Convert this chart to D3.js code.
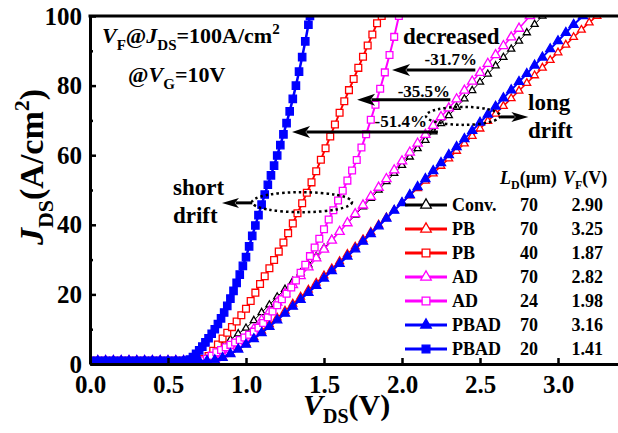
<!DOCTYPE html>
<html>
<head>
<meta charset="utf-8">
<script src="https://cdn.jsdelivr.net/npm/d3@7"></script>
<style>
  body { margin: 0; background: #fff; }
  svg text { font-family: "Liberation Serif", "Times New Roman", serif; font-weight: bold; fill: #000; }
</style>
</head>
<body>
<svg id="chart" width="618" height="433"></svg>
<script>
// off-state part shared by every curve: [V_DS, J_DS]
var offState = [[0,0.9],[0.05,0.9],[0.1,0.9],[0.15,0.9],[0.2,0.9],[0.25,0.9],[0.3,0.9],[0.35,0.9],[0.4,0.9],[0.45,0.9],[0.5,0.9],[0.55,0.9],[0.6,0.9]];

var conv70 = [[0.65,0.9],[0.70,1.0],[0.75,1.8],[0.80,3.2],[0.85,5.0],[0.90,7.0],[0.95,8.7],[1.00,10.3],[1.05,12.5],[1.10,14.8],[1.15,17.0],[1.20,19.3],[1.25,21.5],[1.30,23.8],[1.35,26.2],[1.40,28.5],[1.45,30.9],[1.50,33.3],[1.55,35.7],[1.60,38.0],[1.65,40.4],[1.70,42.8],[1.75,45.2],[1.80,47.6],[1.85,50.0],[1.90,52.4],[1.95,54.8],[2.00,57.1],[2.05,59.5],[2.10,61.9],[2.15,64.3],[2.20,66.7],[2.25,69.1],[2.30,71.4],[2.35,73.8],[2.40,76.2],[2.45,78.6],[2.50,81.0],[2.55,83.3],[2.60,85.7],[2.65,88.1],[2.70,90.5],[2.75,92.8],[2.80,95.2],[2.85,97.6],[2.90,100]];

var pb70 = [[0.65,0.9],[0.70,0.9],[0.75,1.0],[0.80,1.3],[0.85,2.0],[0.90,3.1],[0.95,4.5],[1.00,6.0],[1.05,7.7],[1.10,9.5],[1.15,11.4],[1.20,13.3],[1.25,15.3],[1.30,17.3],[1.35,19.3],[1.40,21.3],[1.45,23.3],[1.50,25.4],[1.55,27.4],[1.60,29.5],[1.65,31.6],[1.70,33.7],[1.75,35.8],[1.80,37.9],[1.85,40.0],[1.90,42.1],[1.95,44.2],[2.00,46.3],[2.05,48.4],[2.10,50.5],[2.15,52.6],[2.20,54.7],[2.25,56.9],[2.30,59.0],[2.35,61.2],[2.40,63.3],[2.45,65.5],[2.50,67.6],[2.55,69.8],[2.60,71.9],[2.65,74.1],[2.70,76.3],[2.75,78.5],[2.80,80.7],[2.85,82.9],[2.90,85.1],[2.95,87.3],[3.00,89.5],[3.05,91.7],[3.10,93.9],[3.15,96.0],[3.20,98.1],[3.25,100]];

var pb40 = [[0.64,0.9],[0.67,0.9],[0.70,1.0],[0.73,1.4],[0.76,2.3],[0.79,3.8],[0.82,5.6],[0.85,7.3],[0.88,9.0],[0.91,10.6],[0.94,12.2],[0.97,14.0],[1.00,15.9],[1.03,18.1],[1.06,20.5],[1.09,23.0],[1.12,25.2],[1.15,27.5],[1.18,29.9],[1.21,32.3],[1.24,34.9],[1.27,37.6],[1.30,40.4],[1.33,43.3],[1.36,46.2],[1.39,49.2],[1.42,52.2],[1.45,55.4],[1.48,58.7],[1.51,62.0],[1.54,65.4],[1.57,68.8],[1.60,72.2],[1.63,75.5],[1.66,78.7],[1.69,81.9],[1.72,85.1],[1.75,88.3],[1.78,91.5],[1.81,94.7],[1.84,97.9],[1.87,100]];

var ad70 = [[0.65,0.9],[0.70,0.9],[0.75,1.0],[0.80,1.6],[0.85,2.8],[0.90,4.2],[0.95,5.8],[1.00,7.5],[1.05,10.0],[1.10,12.6],[1.15,15.1],[1.20,17.7],[1.25,20.2],[1.30,22.7],[1.35,25.3],[1.40,27.8],[1.45,30.4],[1.50,32.9],[1.55,35.5],[1.60,38.0],[1.65,40.5],[1.70,43.1],[1.75,45.6],[1.80,48.1],[1.85,50.7],[1.90,53.2],[1.95,55.7],[2.00,58.3],[2.05,60.8],[2.10,63.4],[2.15,65.9],[2.20,68.5],[2.25,71.0],[2.30,73.5],[2.35,76.1],[2.40,78.6],[2.45,81.2],[2.50,83.7],[2.55,86.3],[2.60,88.8],[2.65,91.4],[2.70,93.9],[2.75,96.4],[2.82,100]];

var ad24 = [[0.66,0.9],[0.69,0.9],[0.72,1.0],[0.75,1.5],[0.78,2.4],[0.81,3.4],[0.84,4.0],[0.87,4.8],[0.90,5.5],[0.93,6.2],[0.96,6.9],[0.99,7.6],[1.02,8.4],[1.05,9.3],[1.08,10.4],[1.11,11.8],[1.14,13.4],[1.17,15.1],[1.20,16.9],[1.23,18.6],[1.26,20.2],[1.29,22.0],[1.32,24.0],[1.35,26.2],[1.38,28.5],[1.41,31.0],[1.44,33.5],[1.47,36.0],[1.50,38.7],[1.53,41.5],[1.56,44.2],[1.59,47.0],[1.62,49.8],[1.65,52.7],[1.68,55.6],[1.71,58.6],[1.74,62.2],[1.77,66.0],[1.80,70.2],[1.83,74.5],[1.86,79.1],[1.89,83.8],[1.92,88.8],[1.95,94.0],[1.98,100]];

var pbad70 = [[0.65,0.9],[0.70,0.9],[0.75,0.9],[0.80,1.1],[0.85,1.8],[0.90,2.9],[0.95,4.2],[1.00,5.6],[1.05,7.2],[1.10,8.9],[1.15,10.7],[1.20,12.6],[1.25,14.5],[1.30,16.5],[1.35,18.5],[1.40,20.5],[1.45,22.5],[1.50,24.6],[1.55,26.7],[1.60,28.8],[1.65,30.9],[1.70,33.0],[1.75,35.2],[1.80,37.4],[1.85,39.6],[1.90,41.8],[1.95,44.1],[2.00,46.3],[2.05,48.6],[2.10,50.9],[2.15,53.2],[2.20,55.5],[2.25,57.8],[2.30,60.1],[2.35,62.4],[2.40,64.7],[2.45,67.0],[2.50,69.4],[2.55,71.7],[2.60,74.0],[2.65,76.4],[2.70,78.7],[2.75,81.1],[2.80,83.4],[2.85,85.8],[2.90,88.1],[2.95,90.5],[3.00,92.8],[3.05,95.2],[3.10,97.5],[3.16,100]];

var pbad20 = [[0.62,0.9],[0.64,1.3],[0.66,2.0],[0.68,2.9],[0.70,3.9],[0.72,5.0],[0.74,6.2],[0.76,7.4],[0.78,8.7],[0.80,10.0],[0.82,11.5],[0.84,13.1],[0.86,14.8],[0.88,16.7],[0.90,18.8],[0.92,21.0],[0.94,23.3],[0.96,25.7],[0.98,28.2],[1.00,30.7],[1.02,33.8],[1.04,36.8],[1.06,39.8],[1.08,42.8],[1.10,45.8],[1.12,48.7],[1.14,51.5],[1.16,54.2],[1.18,57.0],[1.20,59.9],[1.22,62.9],[1.24,66.0],[1.26,69.2],[1.28,72.6],[1.30,76.2],[1.32,80.0],[1.34,84.0],[1.36,88.2],[1.38,92.7],[1.40,97.5],[1.41,100]];

var seriesData = [conv70, pb70, pb40, ad70, ad24, pbad70, pbad20];
var seriesNames = ['Conv.', 'PB', 'PB', 'AD', 'AD', 'PBAD', 'PBAD'];
var driftLengths = ['70', '70', '40', '70', '24', '70', '20'];
var forwardVoltages = ['2.90', '3.25', '1.87', '2.82', '1.98', '3.16', '1.41'];

var xTicks = [0, 0.5, 1.0, 1.5, 2.0, 2.5, 3.0];
var yTicks = [0, 20, 40, 60, 80, 100];
var yMinorTicks = [10, 30, 50, 70, 90];

var decreaseLabels = ['-31.7%', '-35.5%', '-51.4%'];

// look of each curve (same order as seriesData)
var styles = [
  { color: '#000000', symbol: d3.symbolTriangle, size: 22, filled: false, lw: 1 },
  { color: '#ff0000', symbol: d3.symbolTriangle, size: 26, filled: false, lw: 1.5 },
  { color: '#ff0000', symbol: d3.symbolSquare, size: 46, filled: false, lw: 2 },
  { color: '#ff00ff', symbol: d3.symbolTriangle, size: 38, filled: false, lw: 1.5 },
  { color: '#ff00ff', symbol: d3.symbolSquare, size: 46, filled: false, lw: 2 },
  { color: '#0000ff', symbol: d3.symbolTriangle, size: 36, filled: true, lw: 2 },
  { color: '#0000ff', symbol: d3.symbolSquare, size: 54, filled: true, lw: 2.5 }
];

var svg = d3.select('#chart');
var plotLeft = 90, plotRight = 620.4, plotTop = 16, plotBottom = 364;

var x = d3.scaleLinear().domain([0, 3.4]).range([plotLeft, plotRight]);
var y = d3.scaleLinear().domain([0, 100]).range([plotBottom, plotTop]);

svg.append('defs').append('clipPath').attr('id', 'plotClip')
  .append('rect').attr('x', plotLeft).attr('y', plotTop)
  .attr('width', plotRight - plotLeft).attr('height', plotBottom - plotTop);

var plot = svg.append('g').attr('clip-path', 'url(#plotClip)');

var line = d3.line().x(function(d) { return x(d[0]); }).y(function(d) { return y(d[1]); });

seriesData.forEach(function(points, i) {
  var st = styles[i];
  var pts = offState.concat(points);
  var g = plot.append('g');
  g.append('path').datum(pts)
    .attr('d', line)
    .attr('fill', 'none')
    .attr('stroke', st.color)
    .attr('stroke-width', st.lw);
  g.selectAll('path.pt').data(pts).enter().append('path')
    .attr('class', 'pt')
    .attr('transform', function(d) { return 'translate(' + x(d[0]) + ',' + y(d[1]) + ')'; })
    .attr('d', d3.symbol().type(st.symbol).size(st.size))
    .attr('fill', st.filled ? st.color : '#fff')
    .attr('stroke', st.color)
    .attr('stroke-width', 1.3);
});

// Annotations (positions in data units)
function arrow(x1, x2, yv, head, half) {
  var px1 = x(x1), px2 = x(x2), py = y(yv);
  var dir = px2 < px1 ? -1 : 1;
  svg.append('line')
    .attr('x1', px1).attr('y1', py)
    .attr('x2', px2 - dir * head * 0.8).attr('y2', py)
    .attr('stroke', '#000').attr('stroke-width', 3);
  svg.append('path')
    .attr('d', 'M' + px2 + ',' + py + 'L' + (px2 - dir * head) + ',' + (py - half) +
      'L' + (px2 - dir * head * 0.75) + ',' + py + 'L' + (px2 - dir * head) + ',' + (py + half) + 'Z')
    .attr('fill', '#000');
}

arrow(2.47, 1.936, 84.5, 18, 6);
arrow(2.31, 1.712, 75.9, 18, 6);
arrow(2.23, 1.295, 66.7, 18, 6);
arrow(2.63, 2.81, 71.0, 17, 5);
arrow(1.04, 0.846, 46.3, 17, 5);

svg.append('text').attr('x', x(2.481)).attr('y', y(85.9)).attr('text-anchor', 'end').style('font-size', '17px').text(decreaseLabels[0]);
svg.append('text').attr('x', x(2.308)).attr('y', y(76.7)).attr('text-anchor', 'end').style('font-size', '17px').text(decreaseLabels[1]);
svg.append('text').attr('x', x(2.16)).attr('y', y(68.1)).attr('text-anchor', 'end').style('font-size', '17px').text(decreaseLabels[2]);

svg.append('text').attr('x', x(2.006)).attr('y', y(92.0)).style('font-size', '23px').text('decreased');
svg.append('text').attr('x', x(2.808)).attr('y', y(73.0)).style('font-size', '23px').text('long');
svg.append('text').attr('x', x(2.808)).attr('y', y(64.9)).style('font-size', '23px').text('drift');
svg.append('text').attr('x', x(0.532)).attr('y', y(48.6)).style('font-size', '23px').text('short');
svg.append('text').attr('x', x(0.532)).attr('y', y(40.5)).style('font-size', '23px').text('drift');

svg.append('ellipse').attr('cx', x(2.391)).attr('cy', y(71.3)).attr('rx', 37).attr('ry', 9)
  .attr('fill', 'none').attr('stroke', '#000').attr('stroke-width', 2.5).attr('stroke-dasharray', '2.5,3');
svg.append('ellipse').attr('cx', x(1.359)).attr('cy', y(46.5)).attr('rx', 50).attr('ry', 10)
  .attr('fill', 'none').attr('stroke', '#000').attr('stroke-width', 2.5).attr('stroke-dasharray', '2.5,3');

// Condition text
var cond1 = svg.append('text').attr('x', x(0.077)).attr('y', y(92.2)).style('font-size', '22px');
cond1.append('tspan').style('font-style', 'italic').text('V');
cond1.append('tspan').attr('dy', 7).style('font-size', '15px').text('F');
cond1.append('tspan').attr('dy', -7).text('@');
cond1.append('tspan').style('font-style', 'italic').text('J');
cond1.append('tspan').attr('dy', 7).style('font-size', '15px').text('DS');
cond1.append('tspan').attr('dy', -7).text('=100A/cm');
cond1.append('tspan').attr('dy', -9).style('font-size', '15px').text('2');

var cond2 = svg.append('text').attr('x', x(0.244)).attr('y', y(81.0)).style('font-size', '22px');
cond2.append('tspan').text('@');
cond2.append('tspan').style('font-style', 'italic').text('V');
cond2.append('tspan').attr('dy', 7).style('font-size', '15px').text('G');
cond2.append('tspan').attr('dy', -7).text('=10V');

// Legend table
var legend = svg.append('g');
var legHead1 = legend.append('text').attr('x', 500).attr('y', 184).style('font-size', '18px');
legHead1.append('tspan').style('font-style', 'italic').text('L');
legHead1.append('tspan').attr('dy', 5).style('font-size', '12px').text('D');
legHead1.append('tspan').attr('dy', -5).text('(\u03bcm)');
var legHead2 = legend.append('text').attr('x', 563).attr('y', 184).style('font-size', '18px');
legHead2.append('tspan').style('font-style', 'italic').text('V');
legHead2.append('tspan').attr('dy', 5).style('font-size', '12px').text('F');
legHead2.append('tspan').attr('dy', -5).text('(V)');

seriesNames.forEach(function(name, i) {
  var st = styles[i];
  var ly = 205 + i * 24;
  legend.append('line').attr('x1', 405).attr('x2', 447).attr('y1', ly).attr('y2', ly)
    .attr('stroke', st.color).attr('stroke-width', 3);
  legend.append('path').attr('transform', 'translate(426,' + ly + ')')
    .attr('d', d3.symbol().type(st.symbol).size(st.symbol === d3.symbolSquare ? 60 : 48))
    .attr('fill', st.filled ? st.color : '#fff').attr('stroke', st.color).attr('stroke-width', 1.3);
  legend.append('text').attr('x', 452).attr('y', ly + 6).style('font-size', '18px').text(name);
  legend.append('text').attr('x', 529).attr('y', ly + 6).attr('text-anchor', 'middle').style('font-size', '18px').text(driftLengths[i]);
  legend.append('text').attr('x', 603).attr('y', ly + 6).attr('text-anchor', 'end').style('font-size', '18px').text(forwardVoltages[i]);
});

// Axes
var xAxis = d3.axisBottom(x).tickValues(xTicks).tickFormat(d3.format('.1f')).tickSizeInner(-6).tickSizeOuter(0).tickPadding(11);
var yAxis = d3.axisLeft(y).tickValues(yTicks).tickFormat(d3.format('d')).tickSizeInner(-6).tickSizeOuter(0).tickPadding(8);
var yMinor = d3.axisLeft(y).tickValues(yMinorTicks).tickFormat('').tickSizeInner(-3).tickSizeOuter(0);

var gx = svg.append('g').attr('transform', 'translate(0,' + plotBottom + ')').call(xAxis);
var gy = svg.append('g').attr('transform', 'translate(' + plotLeft + ',0)').call(yAxis);
var gym = svg.append('g').attr('transform', 'translate(' + plotLeft + ',0)').call(yMinor);
gym.select('.domain').remove();

[gx, gy, gym].forEach(function(g) {
  g.attr('font-family', null).attr('font-size', null);
  g.selectAll('.domain').attr('stroke', '#000').attr('stroke-width', 3);
  g.selectAll('.tick line').attr('stroke', '#000').attr('stroke-width', 2.5);
  g.selectAll('.tick text').style('font-size', '25px').attr('fill', '#000');
});

svg.append('line').attr('x1', plotLeft - 1.5).attr('x2', 618).attr('y1', plotTop).attr('y2', plotTop)
  .attr('stroke', '#000').attr('stroke-width', 3);

// Axis titles
var xTitle = svg.append('text').attr('x', 303).attr('y', 415).style('font-size', '30px');
xTitle.append('tspan').style('font-style', 'italic').text('V');
xTitle.append('tspan').attr('dy', 8).style('font-size', '20px').text('DS');
xTitle.append('tspan').attr('dy', -8).text('(V)');

var yTitle = svg.append('text').attr('transform', 'translate(43,167) rotate(-90)')
  .attr('text-anchor', 'middle').style('font-size', '34px');
yTitle.append('tspan').style('font-style', 'italic').text('J');
yTitle.append('tspan').attr('dy', 10).style('font-size', '22px').text('DS');
yTitle.append('tspan').attr('dy', -10).text('(A/cm');
yTitle.append('tspan').attr('dy', -14).style('font-size', '22px').text('2');
yTitle.append('tspan').attr('dy', 14).text(')');
</script>
</body>
</html>
